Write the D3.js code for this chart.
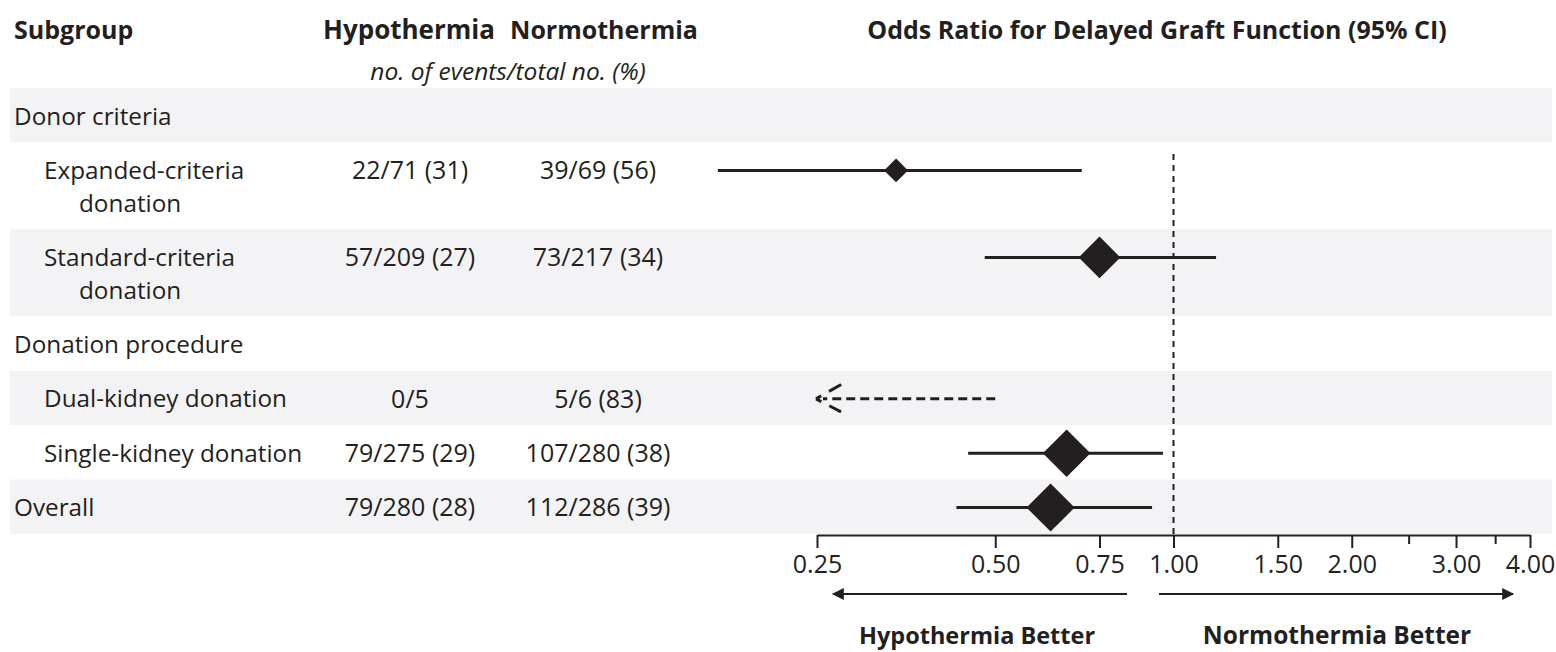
<!DOCTYPE html>
<html><head><meta charset="utf-8">
<script src="https://cdn.jsdelivr.net/npm/d3@7"></script>
<style>
html,body{margin:0;padding:0;background:#fff;}
svg text{font-family:"Open Sans",sans-serif;fill:#231f20;}
</style></head>
<body>
<svg id="chart" width="1556" height="652"></svg>
<script>
// ---- data ----
const rowLabels = ["Donor criteria", "Expanded-criteria|donation", "Standard-criteria|donation",
  "Donation procedure", "Dual-kidney donation", "Single-kidney donation", "Overall"];
const rowLevels = [0, 1, 1, 0, 1, 1, 0];
const hypothermia = ["", "22/71 (31)", "57/209 (27)", "", "0/5", "79/275 (29)", "79/280 (28)"];
const normothermia = ["", "39/69 (56)", "73/217 (34)", "", "5/6 (83)", "107/280 (38)", "112/286 (39)"];
const oddsRatio = [null, 0.34, 0.75, null, null, 0.66, 0.62];
const ciLower = [null, 0.17, 0.48, null, 0.25, 0.45, 0.43];
const ciUpper = [null, 0.70, 1.18, null, 0.50, 0.96, 0.92];
const ciOpenLeft = [false, false, false, false, true, false, false];
const xTicks = [0.25, 0.5, 0.75, 1, 1.5, 2, 3, 4];
const xMinorTicks = [2.5, 3.5];
const xTickLabels = ["0.25", "0.50", "0.75", "1.00", "1.50", "2.00", "3.00", "4.00"];

// ---- layout ----
const svg = d3.select("#chart");
const ink = "#231f20";
const tableTop = 88, tableBottom = 534;
const bandLeft = 10, bandRight = 1552;

const x = d3.scaleLog().base(2).domain([0.25, 4]).range([817, 1530]);

const units = rowLabels.map(l => l.includes("|") ? 1.6 : 1);
const cum = [0];
units.forEach(u => cum.push(cum[cum.length - 1] + u));
const yU = d3.scaleLinear().domain([0, cum[cum.length - 1]]).range([tableTop, tableBottom]);

const nScale = d3.scaleSqrt().domain([0, 566]).range([0, 24]);
function totalN(i) {
  const a = hypothermia[i].split(" ")[0].split("/");
  const b = normothermia[i].split(" ")[0].split("/");
  return (+a[1]) + (+b[1]);
}

// bands
svg.append("g").selectAll("rect").data(rowLabels).join("rect")
  .attr("x", bandLeft).attr("width", bandRight - bandLeft)
  .attr("y", (d, i) => yU(cum[i])).attr("height", (d, i) => yU(cum[i + 1]) - yU(cum[i]))
  .attr("fill", (d, i) => i % 2 === 0 ? "#f3f3f5" : "#ffffff");

// headers
const fs = 25;
svg.append("text").attr("x", 14).attr("y", 39).attr("font-size", fs).attr("font-weight", 700).text("Subgroup");
svg.append("text").attr("x", 409).attr("y", 39).attr("font-size", 26).attr("font-weight", 700).attr("text-anchor", "middle").text("Hypothermia");
svg.append("text").attr("x", 604).attr("y", 39).attr("font-size", fs).attr("font-weight", 700).attr("text-anchor", "middle").text("Normothermia");
svg.append("text").attr("x", 508).attr("y", 80).attr("font-size", 24.5).attr("font-style", "italic").attr("text-anchor", "middle").text("no. of events/total no. (%)");
svg.append("text").attr("x", 1157).attr("y", 39).attr("font-size", fs).attr("font-weight", 700).attr("text-anchor", "middle").text("Odds Ratio for Delayed Graft Function (95% CI)");

// rows
const rowY = i => yU(cum[i]) + 28;
rowLabels.forEach((lab, i) => {
  const parts = lab.split("|");
  const x0 = rowLevels[i] === 0 ? 14 : 44;
  const t = svg.append("text").attr("font-size", 24.3);
  parts.forEach((p, j) => {
    t.append("tspan").attr("x", j === 0 ? x0 : x0 + 35).attr("y", rowY(i) + j * 33)
      .attr("dy", "0.35em").text(p);
  });
  if (hypothermia[i]) svg.append("text").attr("x", 410).attr("y", rowY(i)).attr("dy", "0.35em")
    .attr("font-size", fs).attr("text-anchor", "middle").text(hypothermia[i]);
  if (normothermia[i]) svg.append("text").attr("x", 598).attr("y", rowY(i)).attr("dy", "0.35em")
    .attr("font-size", fs).attr("text-anchor", "middle").text(normothermia[i]);
});

// reference line at OR = 1
svg.append("line").attr("x1", x(1)).attr("x2", x(1)).attr("y1", 154).attr("y2", tableBottom)
  .attr("stroke", ink).attr("stroke-width", 2).attr("stroke-dasharray", "6,5");

// CIs
const g = svg.append("g");
rowLabels.forEach((lab, i) => {
  if (ciUpper[i] == null) return;
  const y = rowY(i);
  if (ciOpenLeft[i]) {
    const tip = x(ciLower[i]) - 1;
    g.append("path").attr("d", `M${x(ciUpper[i])},${y}H${tip + 7}`)
      .attr("fill", "none").attr("stroke", ink).attr("stroke-width", 3).attr("stroke-dasharray", "9,5");
    g.append("path").attr("d", `M${tip},${y}L${tip + 28},${y - 16}M${tip},${y}L${tip + 25},${y + 13}`)
      .attr("fill", "none").attr("stroke", ink).attr("stroke-width", 3).attr("stroke-dasharray", "6,9,14");
    return;
  }
  g.append("line").attr("x1", x(ciLower[i])).attr("x2", x(ciUpper[i])).attr("y1", y).attr("y2", y)
    .attr("stroke", ink).attr("stroke-width", 3);
  if (oddsRatio[i] != null) {
    const r = nScale(totalN(i));
    const cx = x(oddsRatio[i]);
    g.append("path").attr("d", `M${cx - r},${y}L${cx},${y - r}L${cx + r},${y}L${cx},${y + r}Z`).attr("fill", ink);
  }
});

// axis
const axisY = 535;
const axis = svg.append("g").attr("transform", `translate(0,${axisY})`)
  .call(d3.axisBottom(x).tickValues(xTicks).tickFormat((d, i) => xTickLabels[i]).tickSize(13).tickSizeOuter(0).tickPadding(7));
axis.select(".domain").attr("stroke", ink).attr("stroke-width", 2);
axis.selectAll(".tick line").attr("stroke", ink).attr("stroke-width", 2);
axis.selectAll(".tick text").attr("font-size", 25).attr("font-family", "Open Sans").attr("fill", ink);
svg.append("g").selectAll("line").data(xMinorTicks).join("line")
  .attr("x1", d => x(d)).attr("x2", d => x(d)).attr("y1", axisY).attr("y2", axisY + 9)
  .attr("stroke", ink).attr("stroke-width", 2);

// direction arrows
const defs = svg.append("defs");
defs.append("marker").attr("id", "ah").attr("viewBox", "0 0 10 10").attr("refX", 9).attr("refY", 5)
  .attr("markerWidth", 16).attr("markerHeight", 12).attr("markerUnits", "userSpaceOnUse").attr("orient", "auto")
  .append("path").attr("d", "M0,0L10,5L0,10Z").attr("fill", ink);
const arrowY = 594;
svg.append("line").attr("x1", 1127).attr("x2", 833).attr("y1", arrowY).attr("y2", arrowY)
  .attr("stroke", ink).attr("stroke-width", 2).attr("marker-end", "url(#ah)");
svg.append("line").attr("x1", 1159).attr("x2", 1513).attr("y1", arrowY).attr("y2", arrowY)
  .attr("stroke", ink).attr("stroke-width", 2).attr("marker-end", "url(#ah)");
svg.append("text").attr("x", 977).attr("y", 644).attr("font-size", 23.5).attr("font-weight", 700).attr("text-anchor", "middle").text("Hypothermia Better");
svg.append("text").attr("x", 1337).attr("y", 644).attr("font-size", 24.5).attr("font-weight", 700).attr("text-anchor", "middle").text("Normothermia Better");
</script>
</body></html>
